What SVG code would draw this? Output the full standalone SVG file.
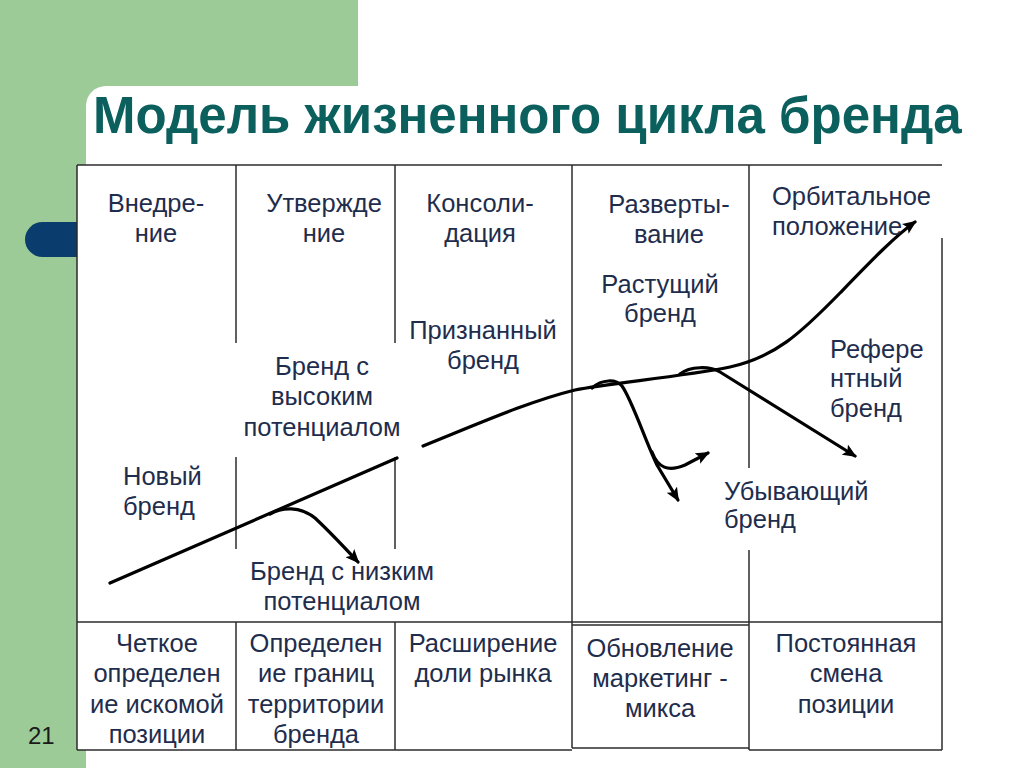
<svg xmlns="http://www.w3.org/2000/svg" width="1024" height="768" viewBox="0 0 1024 768">
<style>
.t{font-family:"Liberation Sans",Arial,sans-serif;font-size:25.5px;fill:#1f2d4d}
.c{text-anchor:middle}
.grid{stroke:#2b2b2b;stroke-width:1.5;fill:none}
.curve{stroke:#000;stroke-width:3.2;fill:none;stroke-linecap:round}
</style>
<defs>
<marker id="ah" markerUnits="userSpaceOnUse" markerWidth="14" markerHeight="12" viewBox="0 0 14 12" refX="12" refY="6" orient="auto">
<path d="M0,0 L14,6 L0,12 L3,6 Z" fill="#000"/>
</marker>
</defs>
<g id="background">
<rect x="0" y="0" width="1024" height="768" fill="#9ccb98"/>
<path d="M106,86 H1024 V768 H86 V106 A20,20 0 0 1 106,86 Z" fill="#fff"/>
<rect x="358" y="0" width="666" height="86" fill="#fff"/>
<rect x="25" y="222" width="90" height="35" rx="17.5" fill="#0a3d6e"/>
<rect x="77" y="165" width="865" height="585" fill="#fff"/>
</g>
<g id="title">
<text x="93" y="133" style="font-family:'Liberation Sans',Arial,sans-serif;font-weight:bold;font-size:51px;fill:#0b605e">Модель жизненного цикла бренда</text>
</g>
<g id="table" class="grid">
<line x1="77" y1="165" x2="942" y2="165"/>
<line x1="77" y1="165" x2="77" y2="750"/>
<line x1="236" y1="165" x2="236" y2="343"/>
<line x1="236" y1="457" x2="236" y2="549"/>
<line x1="395" y1="165" x2="395" y2="343"/>
<line x1="395" y1="457" x2="395" y2="549"/>
<line x1="572" y1="165" x2="572" y2="622"/>
<line x1="749" y1="165" x2="749" y2="468"/>
<line x1="749" y1="550" x2="749" y2="750"/>
<line x1="942" y1="238" x2="942" y2="750"/>
<line x1="77" y1="622" x2="942" y2="622"/>
<line x1="572" y1="625" x2="749" y2="625"/>
<line x1="236" y1="622" x2="236" y2="750"/>
<line x1="395" y1="622" x2="395" y2="750"/>
<line x1="572" y1="622" x2="572" y2="748"/>
<line x1="77" y1="750" x2="572" y2="750"/>
<line x1="572" y1="748" x2="749" y2="748"/>
<line x1="749" y1="750" x2="942" y2="750"/>
</g>
<g id="connectors">
<path class="curve" d="M110,583 L397,458"/>
<path class="curve" d="M423,446 C480,423 530,401 575,390 C610,383 680,377 730,367 C775,357 800,334 840,293 C870,262 895,236 915,222" marker-end="url(#ah)"/>
<path class="curve" d="M270,514 C282,507 300,506 315,518 C330,532 345,548 358,562" marker-end="url(#ah)"/>
<path class="curve" d="M592,388 C602,379 616,379 622,386 C632,400 645,440 657,465 L678,500" marker-end="url(#ah)"/>
<path class="curve" d="M652,452 C658,468 668,472 685,465 L708,453" marker-end="url(#ah)"/>
<path class="curve" d="M680,374 C690,366 710,366 720,372 L855,456" marker-end="url(#ah)"/>
</g>
<g id="stage1" class="t c"><text x="156" y="212">Внедре-</text><text x="156" y="242">ние</text></g>
<g id="stage2" class="t c"><text x="324" y="212">Утвержде</text><text x="324" y="242">ние</text></g>
<g id="stage3" class="t c"><text x="480" y="212">Консоли-</text><text x="480" y="242">дация</text></g>
<g id="stage4" class="t c"><text x="669" y="213">Разверты-</text><text x="669" y="243">вание</text></g>
<g id="stage5" class="t"><text x="772" y="205">Орбитальное</text><text x="772" y="235">положение</text></g>
<g id="growing" class="t c"><text x="660" y="293">Растущий</text><text x="660" y="322">бренд</text></g>
<g id="recognized" class="t c"><text x="483" y="339">Признанный</text><text x="483" y="369">бренд</text></g>
<g id="highpot" class="t c"><text x="322" y="375">Бренд с</text><text x="322" y="405">высоким</text><text x="322" y="436">потенциалом</text></g>
<g id="referent" class="t"><text x="830" y="358">Рефере</text><text x="830" y="387">нтный</text><text x="830" y="417">бренд</text></g>
<g id="newbrand" class="t"><text x="123" y="485">Новый</text><text x="123" y="515">бренд</text></g>
<g id="lowpot" class="t c"><text x="342" y="580">Бренд с низким</text><text x="342" y="610">потенциалом</text></g>
<g id="declining" class="t"><text x="724" y="500">Убывающий</text><text x="724" y="528">бренд</text></g>
<g id="task1" class="t c"><text x="157" y="652">Четкое</text><text x="157" y="682">определен</text><text x="157" y="713">ие искомой</text><text x="157" y="743">позиции</text></g>
<g id="task2" class="t c"><text x="316" y="652">Определен</text><text x="316" y="682">ие границ</text><text x="316" y="713">территории</text><text x="316" y="743">бренда</text></g>
<g id="task3" class="t c"><text x="483" y="652">Расширение</text><text x="483" y="682">доли рынка</text></g>
<g id="task4" class="t c"><text x="660" y="657">Обновление</text><text x="660" y="687">маркетинг -</text><text x="660" y="717">микса</text></g>
<g id="task5" class="t c"><text x="846" y="652">Постоянная</text><text x="846" y="682">смена</text><text x="846" y="713">позиции</text></g>
<g id="pagenum"><text x="28" y="744" style="font-family:'Liberation Sans',Arial,sans-serif;font-size:24px;fill:#1a1a1a">21</text></g>
</svg>
